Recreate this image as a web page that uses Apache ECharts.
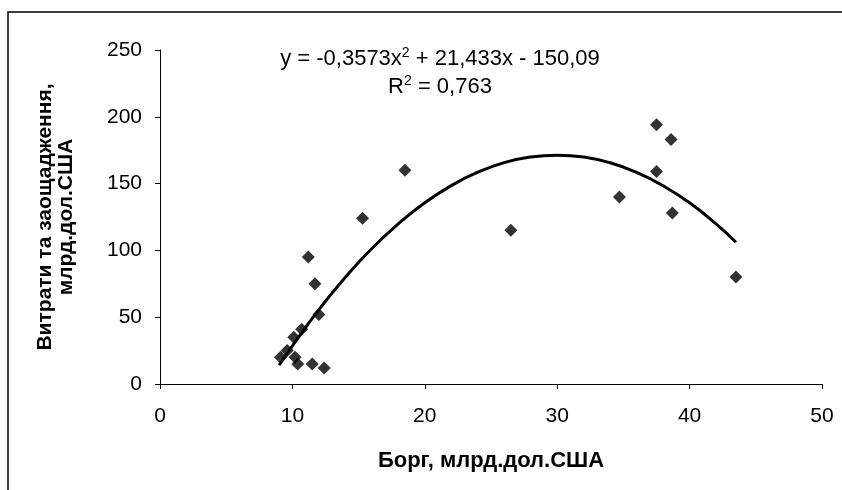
<!DOCTYPE html>
<html>
<head>
<meta charset="utf-8">
<script src="https://cdn.jsdelivr.net/npm/echarts@6/dist/echarts.min.js"></script>
<style>
  html, body { margin: 0; padding: 0; background: #fff; }
  #chart { width: 842px; height: 490px; }
</style>
</head>
<body>
<div id="chart"></div>
<script>
// Points: debt (x) vs spending & savings (y)
const debtValues = [9.1, 9.6, 10.1, 10.2, 10.4, 10.7, 11.2, 11.5, 11.7, 12.0, 12.4, 15.3, 18.5, 26.5, 34.7, 37.5, 37.5, 38.6, 38.7, 43.5]
const spendValues = [20, 25, 35, 20, 15, 41, 95, 15, 75, 52, 12, 124, 160, 115, 140, 194, 159, 183, 128, 80]

// Trend curve
const trendX = [9, 10, 12, 14, 16, 18, 20, 22, 24, 26, 28, 30, 32, 34, 36, 38, 40, 42, 43.5]
const trendY = [14, 28.5, 55.7, 79.9, 101.4, 119.9, 135.7, 148.5, 158.5, 165.7, 169.9, 171.3, 169.9, 165.6, 158.4, 148.4, 135.6, 119.8, 106.1]

const xTicks = [0, 10, 20, 30, 40, 50]
const yTicks = [0, 50, 100, 150, 200, 250]

const fontFam = '"Liberation Sans", Arial, sans-serif'

const chart = echarts.init(document.getElementById('chart'))

const option = {
  animation: false,
  backgroundColor: '#fff',
  grid: { left: 160, right: 20, top: 50, bottom: 106, containLabel: false },
  xAxis: {
    type: 'value',
    min: xTicks[0],
    max: xTicks[xTicks.length - 1],
    interval: 10,
    axisLine: { onZero: false, lineStyle: { color: '#000', width: 1 } },
    axisTick: { show: true, length: 5, lineStyle: { color: '#000' } },
    axisLabel: { color: '#000', fontSize: 21, margin: 22, fontFamily: fontFam },
    splitLine: { show: false },
    name: 'Борг, млрд.дол.США',
    nameLocation: 'middle',
    nameGap: 66,
    nameTextStyle: { color: '#000', fontSize: 22, fontWeight: 'bold', fontFamily: fontFam }
  },
  yAxis: {
    type: 'value',
    min: yTicks[0],
    max: yTicks[yTicks.length - 1],
    interval: 50,
    axisLine: { show: true, onZero: false, lineStyle: { color: '#000', width: 1 } },
    axisTick: { show: true, length: 5, lineStyle: { color: '#000' } },
    axisLabel: { color: '#000', fontSize: 21, margin: 18, fontFamily: fontFam },
    splitLine: { show: false },
    name: 'Витрати та заощадження,\nмлрд.дол.США',
    nameLocation: 'middle',
    nameGap: 83,
    nameTextStyle: { color: '#000', fontSize: 21, fontWeight: 'bold', lineHeight: 21, fontFamily: fontFam }
  },
  series: [
    {
      name: 'trend',
      type: 'line',
      data: trendX.map((x, i) => [x, trendY[i]]),
      smooth: true,
      showSymbol: false,
      lineStyle: { color: '#000', width: 3 },
      z: 2
    },
    {
      name: 'data',
      type: 'scatter',
      data: debtValues.map((x, i) => [x, spendValues[i]]),
      symbol: 'diamond',
      symbolSize: [13, 13],
      itemStyle: { color: '#000' },
      z: 3
    }
  ],
  graphic: [
    {
      type: 'rect',
      shape: { x: 8, y: 12, width: 900, height: 600 },
      style: { fill: 'none', stroke: '#000', lineWidth: 1.5 },
      silent: true
    },
    {
      type: 'text',
      x: 440, y: 59,
      style: {
        text: '{n|y = -0,3573x}{s|2}{n| + 21,433x - 150,09}',
        align: 'center', verticalAlign: 'middle',
        rich: {
          n: { fontSize: 22, fill: '#000', fontFamily: fontFam },
          s: { fontSize: 14, fill: '#000', fontFamily: fontFam, padding: [0, 0, 12, 0] }
        }
      }
    },
    {
      type: 'text',
      x: 440, y: 87,
      style: {
        text: '{n|R}{s|2}{n| = 0,763}',
        align: 'center', verticalAlign: 'middle',
        rich: {
          n: { fontSize: 22, fill: '#000', fontFamily: fontFam },
          s: { fontSize: 14, fill: '#000', fontFamily: fontFam, padding: [0, 0, 12, 0] }
        }
      }
    }
  ]
}

chart.setOption(option)
</script>
</body>
</html>
